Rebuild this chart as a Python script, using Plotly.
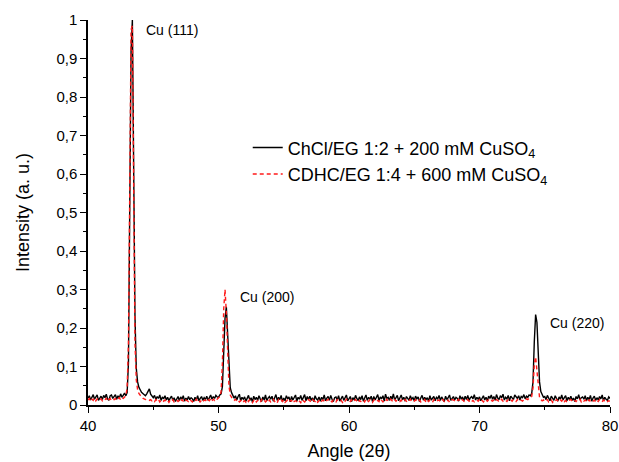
import numpy as np
import plotly.graph_objects as go

# XRD scan: 2-theta from 40 to 80 degrees, 0.1 degree step
START_ANGLE = 40.0
STEP = 0.1

# Normalised intensity x1000, ChCl/EG 1:2 + 200 mM CuSO4 (one row per degree)
chcl_eg = [
    18, 24, 13, 21, 27, 15, 22, 26, 12, 20,
    23, 14, 25, 19, 28, 16, 12, 24, 26, 17,
    21, 27, 15, 24, 18, 29, 20, 26, 31, 24,
    32, 110, 450, 920, 1000, 680, 230, 95, 60, 46,
    38, 33, 30, 27, 24, 29, 36, 42, 28, 22,
    19, 25, 14, 22, 17, 26, 12, 21, 16, 24,
    13, 20, 11, 18, 23, 12, 19, 9, 17, 22,
    11, 21, 15, 24, 10, 18, 13, 22, 14, 19,
    16, 9, 20, 13, 24, 11, 17, 22, 12, 19,
    14, 23, 12, 20, 26, 15, 22, 17, 25, 21,
    20, 26, 29, 48, 130, 225, 255, 190, 95, 45,
    32, 26, 18, 24, 13, 22, 28, 11, 20, 15,
    21, 10, 17, 25, 12, 19, 8, 23, 14, 20,
    12, 24, 16, 9, 21, 13, 26, 11, 18, 22,
    15, 23, 10, 19, 27, 12, 20, 14, 25, 9,
    18, 11, 24, 16, 21, 8, 22, 13, 19, 26,
    10, 20, 15, 25, 12, 18, 27, 11, 22, 14,
    23, 12, 19, 9, 24, 16, 13, 21, 10, 20,
    14, 26, 11, 18, 22, 12, 25, 15, 9, 19,
    21, 13, 24, 10, 17, 23, 12, 20, 26, 11,
    16, 22, 9, 19, 13, 25, 17, 11, 21, 14,
    24, 10, 18, 26, 12, 20, 15, 23, 9, 22,
    13, 19, 27, 11, 21, 16, 24, 10, 28, 17,
    20, 12, 23, 15, 29, 13, 19, 25, 11, 21,
    26, 14, 20, 10, 22, 17, 12, 24, 15, 19,
    11, 23, 16, 21, 9, 18, 25, 13, 20, 14,
    19, 10, 24, 13, 18, 22, 11, 20, 16, 25,
    12, 21, 15, 9, 23, 14, 19, 26, 12, 18,
    22, 13, 20, 17, 10, 24, 15, 21, 11, 23,
    14, 25, 12, 19, 22, 16, 27, 13, 20, 15,
    21, 11, 18, 24, 13, 20, 10, 23, 17, 26,
    15, 22, 12, 27, 18, 14, 24, 19, 28, 13,
    20, 16, 25, 11, 23, 18, 14, 26, 21, 17,
    24, 13, 22, 19, 27, 16, 23, 20, 26, 24,
    30, 60, 165, 235, 215, 130, 60, 35, 26, 20,
    22, 14, 25, 17, 11, 23, 19, 12, 24, 16,
    10, 21, 15, 26, 13, 19, 24, 11, 20, 14,
    23, 12, 18, 9, 22, 16, 27, 13, 19, 21,
    15, 24, 11, 20, 14, 25, 10, 18, 23, 12,
    19, 13, 22, 16, 26, 11, 20, 15, 12, 21,
    17,
]

# Normalised intensity x1000, CDHC/EG 1:4 + 600 mM CuSO4
cdhc_eg = [
    13, 17, 10, 15, 12, 18, 11, 16, 14, 12,
    16, 11, 15, 13, 18, 10, 14, 17, 12, 15,
    14, 17, 12, 16, 19, 13, 18, 17, 21, 24,
    45, 160, 560, 975, 985, 520, 160, 65, 40, 30,
    24, 21, 18, 16, 14, 15, 13, 12, 14, 11,
    13, 9, 14, 11, 15, 8, 12, 14, 10, 13,
    9, 12, 7, 13, 10, 14, 8, 11, 13, 9,
    12, 8, 14, 10, 7, 13, 11, 9, 14, 10,
    8, 13, 10, 15, 9, 12, 7, 14, 10, 12,
    13, 9, 14, 11, 16, 10, 15, 12, 17, 15,
    18, 22, 35, 110, 250, 300, 240, 120, 50, 26,
    19, 14, 12, 15, 10, 13, 8, 12, 14, 9,
    11, 7, 13, 9, 14, 10, 6, 12, 15, 8,
    12, 9, 6, 14, 10, 13, 8, 11, 7, 13,
    8, 12, 15, 9, 11, 6, 14, 10, 13, 9,
    14, 7, 11, 13, 8, 12, 10, 15, 9, 11,
    9, 13, 10, 6, 14, 11, 8, 12, 10, 14,
    11, 8, 14, 12, 9, 13, 7, 11, 15, 10,
    13, 10, 7, 12, 15, 9, 11, 8, 13, 10,
    8, 14, 11, 9, 12, 7, 13, 10, 15, 11,
    12, 9, 13, 8, 11, 14, 10, 6, 12, 9,
    10, 13, 8, 15, 11, 9, 14, 12, 7, 13,
    14, 10, 12, 9, 16, 11, 8, 13, 10, 15,
    9, 12, 15, 11, 8, 14, 10, 13, 12, 9,
    13, 8, 11, 14, 10, 7, 12, 15, 9, 11,
    10, 14, 9, 12, 13, 8, 11, 10, 14, 7,
    12, 9, 13, 10, 7, 14, 11, 9, 12, 13,
    8, 11, 14, 9, 12, 10, 13, 7, 11, 14,
    13, 10, 8, 12, 15, 9, 11, 14, 10, 8,
    11, 14, 10, 13, 9, 12, 8, 11, 13, 10,
    14, 9, 12, 8, 11, 15, 10, 13, 9, 12,
    10, 13, 9, 14, 12, 8, 11, 15, 10, 13,
    12, 9, 14, 11, 13, 10, 15, 12, 9, 14,
    11, 14, 12, 10, 15, 13, 16, 14, 18, 20,
    22, 45, 105, 125, 90, 40, 20, 14, 11, 13,
    9, 12, 14, 8, 11, 13, 7, 12, 10, 14,
    11, 8, 13, 10, 15, 9, 12, 7, 11, 13,
    14, 10, 8, 12, 9, 13, 11, 15, 8, 12,
    10, 13, 11, 7, 14, 9, 12, 10, 13, 8,
    12, 9, 14, 11, 8, 13, 10, 12, 9, 11,
    10,
]

assert len(chcl_eg) == len(cdhc_eg) == 401

series_names = [
    "ChCl/EG 1:2 + 200 mM CuSO<sub>4</sub>",
    "CDHC/EG 1:4 + 600 mM CuSO<sub>4</sub>",
]

# Reflection labels: text, 2-theta, intensity at the label
peak_labels = ["Cu (111)", "Cu (200)", "Cu (220)"]
peak_label_x = [44.3, 51.5, 75.25]
peak_label_y = [0.975, 0.28, 0.213]

angle = np.round(START_ANGLE + STEP * np.arange(len(chcl_eg)), 1)
y_black = np.array(chcl_eg) / 1000.0
y_red = np.array(cdhc_eg) / 1000.0

FONT = "Liberation Sans, Arial, sans-serif"

fig = go.Figure()
fig.add_trace(go.Scatter(
    x=angle, y=y_black, mode="lines", name=series_names[0],
    line=dict(color="black", width=1.4),
))
fig.add_trace(go.Scatter(
    x=angle, y=y_red, mode="lines", name=series_names[1],
    line=dict(color="#ff1a1a", width=1.4, dash="4px,3px"),
))

for text, xv, yv in zip(peak_labels, peak_label_x, peak_label_y):
    fig.add_annotation(
        x=xv, y=yv, text=text, showarrow=False,
        xanchor="left", yanchor="middle",
        font=dict(family=FONT, size=14, color="black"),
    )

axis_common = dict(
    showgrid=False, zeroline=False, showline=True,
    linecolor="black", linewidth=1.5,
    ticks="outside", ticklen=6, tickwidth=1.3, tickcolor="black",
    tickfont=dict(family=FONT, size=15, color="black"),
    mirror=False, automargin=False,
)

fig.update_xaxes(
    range=[40, 80], tick0=40, dtick=10,
    minor=dict(ticks="outside", ticklen=3, tickwidth=1.2, dtick=5, tickcolor="black"),
    title=dict(text="Angle (2θ)", font=dict(family=FONT, size=18, color="black"), standoff=12),
    **axis_common,
)
fig.update_yaxes(
    range=[0, 1], tick0=0, dtick=0.1,
    minor=dict(ticks="outside", ticklen=3, tickwidth=1.2, dtick=0.05, tickcolor="black"),
    title=dict(text="Intensity (a. u.)", font=dict(family=FONT, size=18, color="black"), standoff=22),
    **axis_common,
)

fig.update_layout(
    width=619, height=462,
    margin=dict(l=88, r=9, t=20, b=57),
    paper_bgcolor="white", plot_bgcolor="white",
    separators=", ",
    font=dict(family=FONT, color="black"),
    legend=dict(
        x=0.306, y=0.716, xanchor="left", yanchor="top",
        bgcolor="rgba(0,0,0,0)", font=dict(family=FONT, size=18, color="black"),
    ),
)

fig.write_html("out.html")
